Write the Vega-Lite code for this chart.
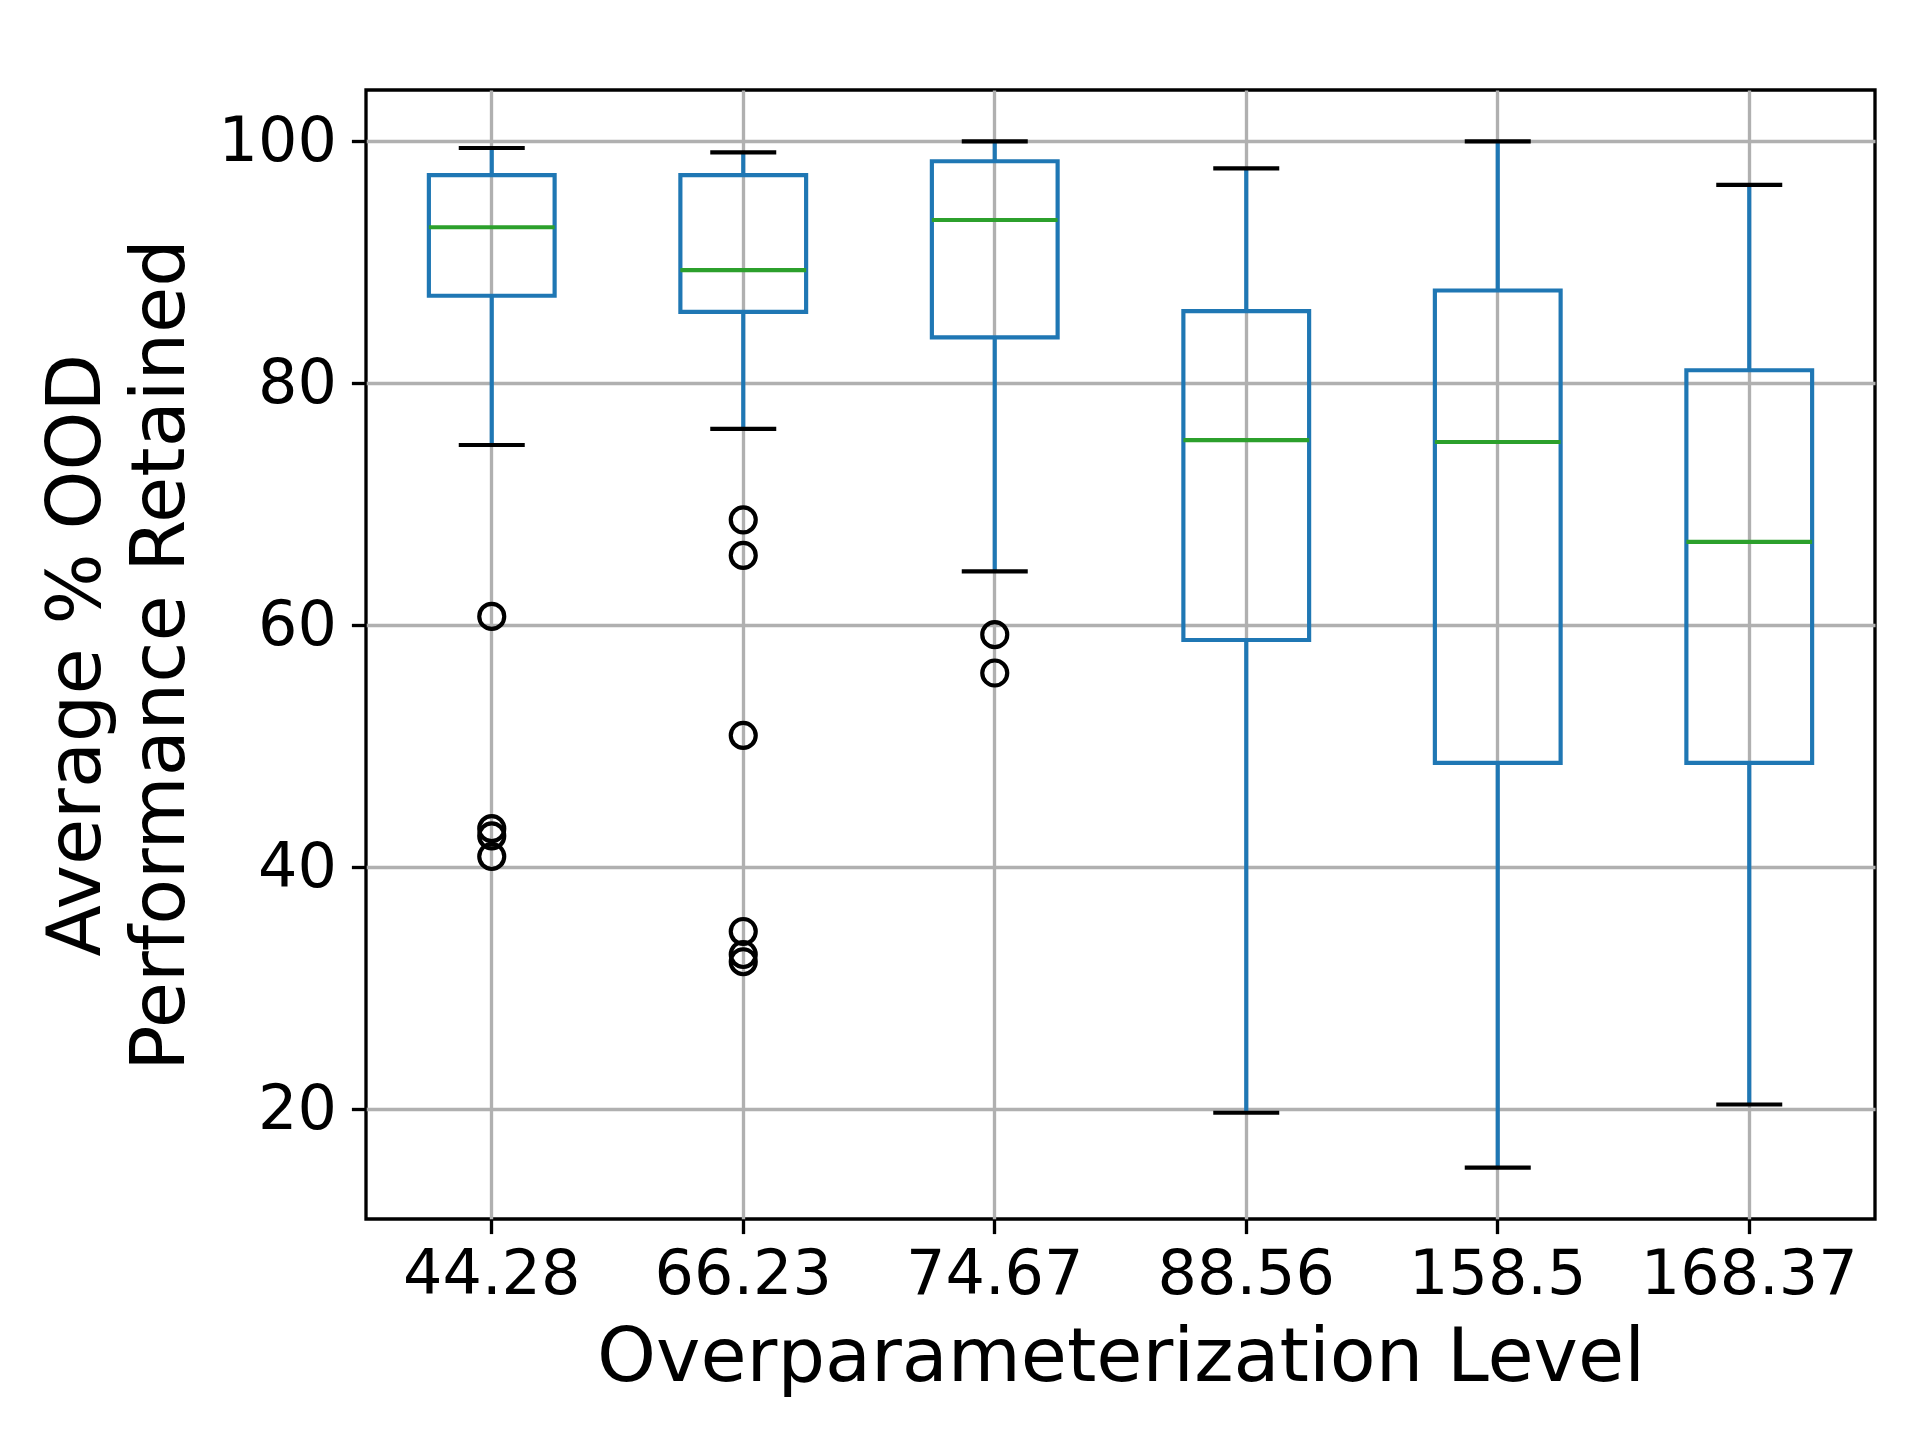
{
  "$schema": "https://vega.github.io/schema/vega-lite/v6.json",
  "width": 1509,
  "height": 1129,
  "autosize": {"type": "none"},
  "padding": {"left": 366, "top": 90, "right": 45, "bottom": 221},
  "background": "white",
  "config": {
    "font": "DejaVu Sans",
    "view": {"stroke": "black", "strokeWidth": 3.33},
    "axis": {
      "domain": false,
      "grid": true,
      "gridColor": "#b0b0b0",
      "gridWidth": 3.33,
      "gridOpacity": 1,
      "tickColor": "black",
      "tickWidth": 3.33,
      "tickSize": 14.6,
      "labelFont": "DejaVu Sans",
      "labelFontSize": 62,
      "labelColor": "black",
      "labelLimit": 0,
      "titleFont": "DejaVu Sans",
      "titleFontSize": 75,
      "titleFontWeight": "normal",
      "titleColor": "black",
      "titleLimit": 0
    }
  },
  "datasets": {
    "boxes": [
      {"level": "44.28", "lower": 74.9, "q1": 87.24, "median": 92.9, "q3": 97.2, "upper": 99.45},
      {"level": "66.23", "lower": 76.23, "q1": 85.9, "median": 89.35, "q3": 97.2, "upper": 99.09},
      {"level": "74.67", "lower": 64.46, "q1": 83.8, "median": 93.5, "q3": 98.35, "upper": 100},
      {"level": "88.56", "lower": 19.72, "q1": 58.79, "median": 75.3, "q3": 85.97, "upper": 97.77},
      {"level": "158.5", "lower": 15.18, "q1": 48.64, "median": 75.15, "q3": 87.67, "upper": 100},
      {"level": "168.37", "lower": 20.4, "q1": 48.64, "median": 66.9, "q3": 81.08, "upper": 96.4}
    ],
    "outliers": [
      {"level": "44.28", "value": 60.74},
      {"level": "44.28", "value": 43.2},
      {"level": "44.28", "value": 42.6},
      {"level": "44.28", "value": 40.9},
      {"level": "66.23", "value": 68.72},
      {"level": "66.23", "value": 65.78},
      {"level": "66.23", "value": 50.9},
      {"level": "66.23", "value": 34.7},
      {"level": "66.23", "value": 32.8},
      {"level": "66.23", "value": 32.2},
      {"level": "74.67", "value": 59.23},
      {"level": "74.67", "value": 56.06}
    ]
  },
  "encoding": {
    "x": {
      "field": "level",
      "type": "nominal",
      "sort": ["44.28", "66.23", "74.67", "88.56", "158.5", "168.37"],
      "scale": {"paddingInner": 0.5, "paddingOuter": 0.25},
      "axis": {
        "title": "Overparameterization Level",
        "labelAngle": 0,
        "labelPadding": 11,
        "titleY": 161,
        "titleBaseline": "alphabetic"
      }
    }
  },
  "layer": [
    {
      "data": {"name": "boxes"},
      "mark": {"type": "bar", "fillOpacity": 0, "stroke": "#1f77b4", "strokeWidth": 4.17},
      "encoding": {
        "y": {
          "field": "q1",
          "type": "quantitative",
          "scale": {"domain": [10.94, 104.24], "nice": false, "zero": false},
          "axis": {
            "title": ["Average % OOD", "Performance Retained"],
            "values": [20, 40, 60, 80, 100],
            "labelPadding": 15,
            "titleAngle": 270,
            "titleX": -267,
            "titleY": 564.5,
            "titleAlign": "center",
            "titleBaseline": "alphabetic",
            "titleLineHeight": 84
          }
        },
        "y2": {"field": "q3"}
      }
    },
    {
      "data": {"name": "boxes"},
      "mark": {"type": "rule", "color": "#1f77b4", "strokeWidth": 4.17},
      "encoding": {
        "y": {"field": "lower", "type": "quantitative"},
        "y2": {"field": "q1"}
      }
    },
    {
      "data": {"name": "boxes"},
      "mark": {"type": "rule", "color": "#1f77b4", "strokeWidth": 4.17},
      "encoding": {
        "y": {"field": "q3", "type": "quantitative"},
        "y2": {"field": "upper"}
      }
    },
    {
      "data": {"name": "boxes"},
      "mark": {"type": "tick", "color": "black", "size": 66, "thickness": 4.17, "opacity": 1},
      "encoding": {
        "y": {"field": "lower", "type": "quantitative"}
      }
    },
    {
      "data": {"name": "boxes"},
      "mark": {"type": "tick", "color": "black", "size": 66, "thickness": 4.17, "opacity": 1},
      "encoding": {
        "y": {"field": "upper", "type": "quantitative"}
      }
    },
    {
      "data": {"name": "boxes"},
      "mark": {"type": "tick", "color": "#2ca02c", "size": 125.75, "thickness": 4.17, "opacity": 1},
      "encoding": {
        "y": {"field": "median", "type": "quantitative"}
      }
    },
    {
      "data": {"name": "outliers"},
      "mark": {"type": "point", "shape": "circle", "filled": false, "stroke": "black", "strokeWidth": 4.17, "size": 625, "opacity": 1},
      "encoding": {
        "y": {"field": "value", "type": "quantitative"}
      }
    }
  ]
}
